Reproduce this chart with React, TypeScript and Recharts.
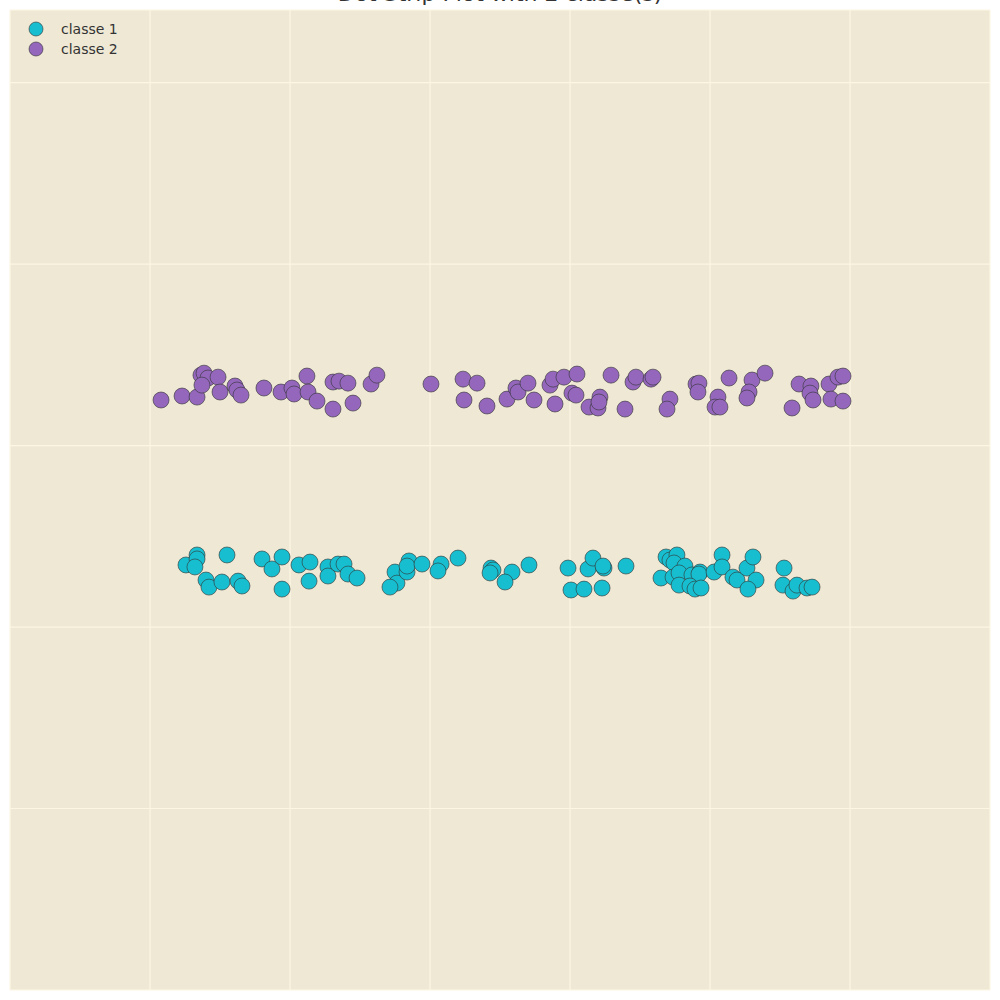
import React from "react";
import { ScatterChart, Scatter, XAxis, YAxis, CartesianGrid } from "recharts";

const classNames = ["classe 1", "classe 2"];
const classColors = ["#17becf", "#9467bd"];

const class1X = [
  1.257, 1.336, 1.336, 1.321, 1.55, 1.4, 1.421, 1.514, 1.629, 1.657,
  1.8, 1.871, 1.943, 1.943, 2.064, 2.143, 2.136, 2.271, 2.271, 2.343,
  2.386, 2.414, 2.479, 2.75, 2.764, 2.714, 2.85, 2.836, 2.836, 2.943,
  3.079, 3.057, 3.2, 3.436, 3.45, 3.429, 3.586, 3.536, 3.707, 3.986,
  4.007, 4.1, 4.129, 4.164, 4.229, 4.243, 4.236, 4.4, 4.65, 4.686,
  4.714, 4.764, 4.743, 4.821, 4.736, 4.779, 4.779, 4.871, 4.929, 4.921,
  4.857, 4.893, 4.936, 5.086, 5.029, 5.086, 5.164, 5.193, 5.264, 5.307,
  5.329, 5.271, 5.529, 5.521, 5.593, 5.621, 5.693, 5.729,
];
const class1Y = [
  0.342, 0.397, 0.375, 0.331, 0.397, 0.259, 0.22, 0.248, 0.253, 0.226,
  0.375, 0.32, 0.386, 0.209, 0.342, 0.358, 0.253, 0.331, 0.281, 0.347,
  0.347, 0.292, 0.27, 0.303, 0.242, 0.22, 0.364, 0.303, 0.336, 0.347,
  0.347, 0.309, 0.38, 0.325, 0.314, 0.298, 0.303, 0.248, 0.342, 0.325,
  0.204, 0.209, 0.32, 0.38, 0.215, 0.325, 0.336, 0.336, 0.27, 0.386,
  0.369, 0.397, 0.353, 0.336, 0.275, 0.298, 0.231, 0.287, 0.303, 0.292,
  0.226, 0.209, 0.215, 0.397, 0.303, 0.331, 0.275, 0.259, 0.325, 0.386,
  0.259, 0.209, 0.325, 0.231, 0.198, 0.231, 0.215, 0.22,
];

const class2X = [
  1.079, 1.229, 1.336, 1.364, 1.386, 1.414, 1.371, 1.486, 1.5, 1.607,
  1.621, 1.65, 1.814, 1.936, 2.014, 2.029, 2.121, 2.129, 2.193, 2.307,
  2.35, 2.414, 2.307, 2.45, 2.579, 2.621, 3.007, 3.236, 3.243, 3.336,
  3.407, 3.55, 3.614, 3.629, 3.7, 3.743, 3.857, 3.879, 3.957, 3.893,
  4.05, 4.014, 4.043, 4.214, 4.136, 4.2, 4.293, 4.393, 4.45, 4.471,
  4.579, 4.593, 4.714, 4.693, 4.9, 4.921, 4.914, 5.057, 5.036, 5.071,
  5.136, 5.3, 5.279, 5.264, 5.393, 5.586, 5.636, 5.721, 5.714, 5.736,
  5.85, 5.864, 5.914, 5.95, 5.95, 4.207,
];
const class2Y = [
  1.251, 1.273, 1.267, 1.388, 1.399, 1.372, 1.333, 1.377, 1.295, 1.328,
  1.306, 1.278, 1.317, 1.295, 1.317, 1.284, 1.383, 1.295, 1.245, 1.35,
  1.355, 1.344, 1.201, 1.234, 1.339, 1.388, 1.339, 1.366, 1.251, 1.344,
  1.218, 1.256, 1.317, 1.295, 1.344, 1.251, 1.333, 1.366, 1.377, 1.229,
  1.394, 1.289, 1.278, 1.267, 1.212, 1.207, 1.388, 1.201, 1.35, 1.377,
  1.366, 1.377, 1.256, 1.201, 1.339, 1.344, 1.295, 1.267, 1.212, 1.212,
  1.372, 1.361, 1.295, 1.262, 1.399, 1.207, 1.339, 1.328, 1.289, 1.251,
  1.339, 1.256, 1.377, 1.383, 1.245, 1.24,
];

const xTicks = [1, 2, 3, 4, 5, 6];
const yTicks = [-1, 0, 1, 2, 3];

const class1 = class1X.map((x, i) => ({ x, y: class1Y[i] }));
const class2 = class2X.map((x, i) => ({ x, y: class2Y[i] }));

const dot = (color: string) => (props: any) => (
  <circle cx={props.cx} cy={props.cy} r={8} fill={color} stroke="#333" strokeWidth={0.6} />
);

export default function App() {
  return (
    <div style={{ position: "absolute", left: 0, top: 0, width: 1000, height: 1000, background: "#fff", fontFamily: "DejaVu Sans" }}>
      <ScatterChart width={1000} height={1000} margin={{ top: 10, right: 10, bottom: 10, left: 10 }}>
        <CartesianGrid fill="#eee8d5" stroke="#fdf6e3" strokeWidth={1.2} />
        <XAxis type="number" dataKey="x" domain={[0, 7]} ticks={xTicks} hide />
        <YAxis type="number" dataKey="y" domain={[-2, 3.4]} ticks={yTicks} hide />
        <Scatter name={classNames[0]} data={class1} shape={dot(classColors[0])} isAnimationActive={false} />
        <Scatter name={classNames[1]} data={class2} shape={dot(classColors[1])} isAnimationActive={false} />
      </ScatterChart>
      <div style={{ position: "absolute", left: 0, width: 1000, top: -18, textAlign: "center", fontSize: 22, color: "#333", lineHeight: "24px" }}>
        Dot Strip Plot with 2 classe(s)
      </div>
      {classNames.map((n, i) => (
        <div key={n} style={{ position: "absolute", left: 28, top: 21 + i * 20, display: "flex", alignItems: "center", fontSize: 14, color: "#333" }}>
          <svg width={16} height={16} style={{ marginRight: 17 }}>
            <circle cx={8} cy={8} r={7} fill={classColors[i]} stroke="#333" strokeWidth={0.6} />
          </svg>
          {n}
        </div>
      ))}
    </div>
  );
}
